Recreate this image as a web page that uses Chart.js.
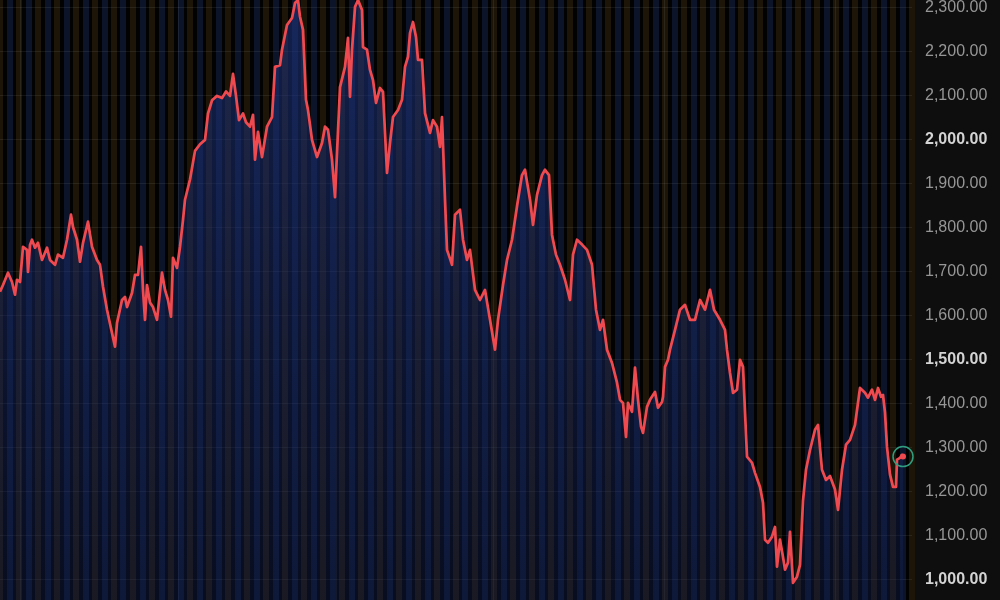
<!DOCTYPE html>
<html>
<head>
<meta charset="utf-8">
<script src="https://cdn.jsdelivr.net/npm/chart.js@4.4.1/dist/chart.umd.min.js"></script>
<style>
  html, body { margin: 0; padding: 0; background: #0f0f0f; }
  #wrap { width: 1000px; height: 600px; }
</style>
</head>
<body>
<div id="wrap"><canvas id="priceChart"></canvas></div>
<script>
// trading days (position along the time axis) and closing prices
const days = [
  0, 3, 8, 12, 15, 17, 20, 23, 27, 28, 30, 32, 35, 38, 42, 47, 50, 55, 58, 63,
  67, 71, 73, 77, 80, 83, 88, 92, 97, 100, 103, 107, 112, 115, 117, 122, 125, 127, 132, 135,
  138, 141, 143, 145, 147, 150, 153, 157, 162, 165, 168, 171, 173, 177, 180, 183, 185, 190, 195, 200,
  205, 208, 212, 217, 222, 226, 230, 233, 236, 239, 243, 246, 250, 253, 255, 258, 262, 267, 272, 275,
  280, 282, 287, 292, 295, 298, 300, 303, 306, 308, 312, 317, 322, 325, 328, 332, 335, 337, 340, 345,
  348, 350, 352, 355, 358, 362, 363, 367, 370, 373, 376, 380, 383, 387, 390, 393, 398, 402, 405, 408,
  410, 413, 416, 418, 422, 425, 430, 433, 437, 440, 442, 445, 447, 450, 452, 455, 460, 463, 467, 470,
  475, 480, 485, 490, 495, 498, 503, 507, 512, 518, 522, 525, 530, 533, 537, 542, 545, 549, 552, 556,
  560, 565, 570, 573, 577, 582, 587, 592, 596, 600, 603, 607, 612, 617, 620, 623, 626, 628, 632, 635,
  638, 641, 643, 647, 650, 655, 658, 662, 663, 665, 668, 670, 675, 680, 685, 690, 695, 700, 705, 710,
  714, 720, 725, 727, 730, 733, 737, 740, 743, 747, 752, 755, 760, 763, 765, 768, 772, 775, 777, 780,
  783, 785, 788, 790, 793, 797, 800, 803, 806, 810, 815, 818, 820, 822, 826, 830, 835, 838, 842, 846,
  850, 855, 860, 865, 868, 872, 875, 878, 881, 883, 885, 887, 890, 893, 896, 897, 900, 902, 903
];
const prices = [
  1655, 1670, 1698, 1677, 1648, 1682, 1677, 1757, 1750, 1700, 1761, 1773, 1755, 1766, 1727, 1755, 1727, 1716, 1739, 1732,
  1773, 1830, 1802, 1773, 1723, 1766, 1814, 1757, 1727, 1716, 1666, 1614, 1561, 1530, 1584, 1636, 1643, 1620, 1652, 1693,
  1693, 1757, 1659, 1591, 1670, 1630, 1620, 1591, 1698, 1659, 1636, 1598, 1732, 1709, 1757, 1818, 1864, 1910, 1975, 1990,
  2000, 2060, 2090, 2100, 2095, 2110, 2100, 2150, 2100, 2045, 2060, 2040, 2030, 2057, 1955, 2018, 1961, 2030, 2052, 2166,
  2170, 2205, 2261, 2277, 2311, 2318, 2280, 2250, 2091, 2068, 2000, 1961, 1993, 2030, 2023, 1955, 1870, 1970, 2120, 2166,
  2232, 2098, 2205, 2302, 2318, 2295, 2211, 2205, 2159, 2136, 2084, 2118, 2109, 1925, 1993, 2052, 2068, 2091, 2166, 2189,
  2243, 2268, 2234, 2182, 2182, 2061, 2016, 2045, 2030, 1984, 2052, 1864, 1750, 1730, 1716, 1830, 1841, 1773, 1727, 1750,
  1659, 1636, 1659, 1591, 1523, 1591, 1670, 1727, 1773, 1864, 1920, 1932, 1864, 1807, 1875, 1920, 1932, 1920, 1784, 1739,
  1716, 1682, 1636, 1739, 1773, 1762, 1750, 1716, 1614, 1568, 1591, 1523, 1493, 1448, 1409, 1402, 1325, 1402, 1382, 1482,
  1409, 1348, 1334, 1393, 1409, 1427, 1391, 1404, 1416, 1484, 1500, 1523, 1568, 1614, 1625, 1591, 1591, 1636, 1614, 1659,
  1614, 1591, 1568, 1523, 1470, 1425, 1432, 1500, 1484, 1280, 1266, 1243, 1211, 1175, 1091, 1084, 1098, 1120, 1030, 1091,
  1052, 1023, 1039, 1109, 993, 1007, 1034, 1180, 1250, 1295, 1341, 1352, 1300, 1250, 1227, 1236, 1205, 1159, 1250, 1307,
  1318, 1352, 1436, 1425, 1414, 1432, 1409, 1436, 1416, 1420, 1380, 1302, 1239, 1211, 1211, 1273, 1277, 1284, 1280
];
// price axis ticks and faint vertical period lines
const priceTicks = [1000, 1100, 1200, 1300, 1400, 1500, 1600, 1700, 1800, 1900, 2000, 2100, 2200, 2300];
const gridDays = [20, 178, 336, 493, 664, 835];

const priceMin = 954;
const priceMax = 2318;
const dayMax = 912;

const lastDay = days[days.length - 1];
const lastPrice = prices[prices.length - 1];

const isMajor = (c) => !!c.tick && c.tick.value % 500 === 0;

const noPad = (s) => {
  s.paddingTop = 0; s.paddingBottom = 0; s.paddingLeft = 0; s.paddingRight = 0;
};

const backdrop = {
  id: 'backdrop',
  beforeDraw(chart) {
    const { ctx, chartArea: a } = chart;
    ctx.save();
    ctx.fillStyle = '#0e0e0e';
    ctx.fillRect(0, 0, chart.width, chart.height);
    ctx.fillStyle = '#020202';
    ctx.fillRect(a.left, a.top, a.right - a.left, a.bottom - a.top);
    ctx.restore();
  }
};

const ctx = document.getElementById('priceChart').getContext('2d');

new Chart(ctx, {
  type: 'line',
  data: {
    datasets: [
      {
        data: [{ x: lastDay, y: lastPrice }],
        showLine: false,
        clip: false,
        pointRadius: 3,
        pointBackgroundColor: '#ee4a50',
        pointBorderWidth: 0
      },
      {
        data: [{ x: lastDay, y: lastPrice }],
        showLine: false,
        clip: false,
        pointRadius: 10,
        pointBorderColor: '#2f9d80',
        pointBorderWidth: 1.5,
        pointBackgroundColor: 'rgba(0,0,0,0)'
      },
      {
        data: days.map((d, i) => ({ x: d, y: prices[i] })),
        borderColor: '#ee4a50',
        borderWidth: 2.75,
        borderJoinStyle: 'round',
        tension: 0,
        pointRadius: 0,
        fill: 'start',
        clip: 4,
        backgroundColor: (c) => {
          const area = c.chart.chartArea;
          if (!area) return 'rgba(25,45,110,0.5)';
          const g = c.chart.ctx.createLinearGradient(0, area.top, 0, area.bottom);
          g.addColorStop(0, 'rgba(30,52,125,0.6)');
          g.addColorStop(1, 'rgba(20,34,88,0.34)');
          return g;
        }
      }
    ]
  },
  options: {
    responsive: true,
    maintainAspectRatio: false,
    animation: false,
    layout: { padding: 0, autoPadding: false },
    plugins: {
      legend: { display: false },
      tooltip: { enabled: false }
    },
    scales: {
      stripes: {
        type: 'linear',
        axis: 'x',
        position: 'bottom',
        min: 0,
        max: dayMax,
        ticks: { display: false, stepSize: 9.5 },
        grid: {
          drawTicks: false,
          lineWidth: 6,
          color: (c) => ((c.index || 0) % 2 === 0 ? '#1d1508' : '#0b1429')
        },
        border: { display: false },
        afterFit: (s) => { s.height = 0; noPad(s); }
      },
      x: {
        type: 'linear',
        position: 'bottom',
        min: 0,
        max: dayMax,
        ticks: { display: false },
        afterBuildTicks: (s) => { s.ticks = gridDays.map(v => ({ value: v })); },
        grid: { drawTicks: false, color: 'rgba(255,255,255,0.07)', lineWidth: 1 },
        border: { display: false },
        afterFit: (s) => { s.height = 0; noPad(s); }
      },
      y: {
        position: 'right',
        min: priceMin,
        max: priceMax,
        afterBuildTicks: (s) => { s.ticks = priceTicks.map(v => ({ value: v })); },
        ticks: {
          padding: 13,
          color: (c) => (isMajor(c) ? '#d4d4d4' : '#969696'),
          font: (c) => ({
            family: "'Liberation Sans', Arial, sans-serif",
            size: 16,
            weight: isMajor(c) ? 'bold' : 'normal'
          }),
          callback: (v) => Number(v).toLocaleString('en-US', { minimumFractionDigits: 2, maximumFractionDigits: 2 })
        },
        grid: { drawTicks: false, color: 'rgba(255,255,255,0.07)' },
        border: { display: false },
        afterFit: (s) => { s.width = 88; noPad(s); }
      }
    }
  },
  plugins: [backdrop]
});
</script>
</body>
</html>
